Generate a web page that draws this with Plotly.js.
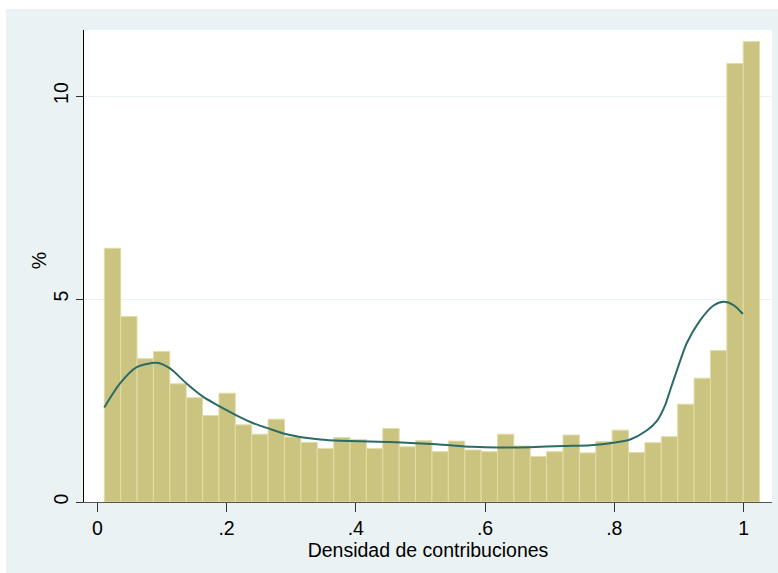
<!DOCTYPE html>
<html>
<head>
<meta charset="utf-8">
<script src="https://cdn.plot.ly/plotly-3.0.1.min.js"></script>
<style>
html,body{margin:0;padding:0;background:#ffffff;}
#chart{position:absolute;left:6px;top:9px;width:772px;height:564px;}
</style>
</head>
<body>
<div id="chart"></div>
<script>
// Histogram bins (centers) and bin width
var binCenters = [0.0235,0.0488,0.0742,0.0995,0.1249,0.1502,0.1756,0.2009,0.2263,0.2516,
                  0.2770,0.3023,0.3277,0.3530,0.3784,0.4037,0.4291,0.4544,0.4798,0.5051,
                  0.5305,0.5558,0.5812,0.6065,0.6319,0.6572,0.6826,0.7079,0.7333,0.7586,
                  0.7840,0.8093,0.8347,0.8600,0.8854,0.9107,0.9361,0.9614,0.9868,1.0121];
var binWidth = 0.02535;
// Percent per bin
var percent = [6.25,4.57,3.53,3.71,2.91,2.57,2.13,2.68,1.90,1.67,
               2.04,1.60,1.47,1.32,1.59,1.54,1.32,1.81,1.36,1.51,
               1.24,1.50,1.28,1.24,1.67,1.38,1.12,1.24,1.65,1.21,
               1.49,1.77,1.22,1.46,1.61,2.41,3.05,3.73,10.80,11.34];
// Kernel density (scaled to percent)
var kdX = [0.0108,0.0351,0.061,0.092,0.1125,0.138,0.164,0.190,0.216,0.2415,0.267,0.293,0.319,0.345,0.376,
           0.463,0.525,0.580,0.618,0.669,0.721,0.763,0.799,0.8246,0.850,0.866,0.879,0.8865,0.897,0.912,0.933,0.9535,0.969,0.9845,0.999];
var kdY = [2.33,2.92,3.32,3.43,3.29,2.92,2.59,2.35,2.13,1.94,1.80,1.67,1.59,1.54,1.51,
           1.47,1.42,1.36,1.34,1.35,1.38,1.40,1.46,1.54,1.76,2.00,2.40,2.76,3.25,3.91,4.48,4.84,4.93,4.85,4.63];
var xTickVals = [0,0.2,0.4,0.6,0.8,1];
var xTickText = ['0','.2','.4','.6','.8','1'];
var yTickVals = [0,5,10];
var yTickText = ['0','5','10'];
var xTitle = 'Densidad de contribuciones';
var yTitle = '%';

var font = {family:'"Liberation Sans", Arial, sans-serif', size:19.5, color:'#000'};

var traces = [
  {type:'bar', x:binCenters, y:percent, width:binWidth,
   marker:{color:'#CBC481', line:{color:'#E2DCA6', width:1}},
   hoverinfo:'x+y', showlegend:false},
  {type:'scatter', mode:'lines', x:kdX, y:kdY,
   line:{color:'#2A6B66', width:2, shape:'spline', smoothing:0.7},
   showlegend:false}
];

var layout = {
  width:772, height:564,
  margin:{l:78, r:6, t:21, b:71},
  paper_bgcolor:'#EAF2F3',
  plot_bgcolor:'#ffffff',
  font:font,
  bargap:0,
  xaxis:{range:[-0.0206,1.044], tickvals:xTickVals, ticktext:xTickText,
         showgrid:false, zeroline:false, showline:true, linecolor:'#555', linewidth:1,
         ticks:'outside', ticklen:9, tickcolor:'#333', tickfont:font,
         title:{text:xTitle, font:font, standoff:0}},
  yaxis:{range:[0,11.626], tickvals:yTickVals, ticktext:yTickText, tickangle:-90,
         showgrid:true, gridcolor:'#EAF2F3', gridwidth:1, zeroline:false,
         showline:true, linecolor:'#000', linewidth:1,
         ticks:'outside', ticklen:7, tickcolor:'#333', tickfont:font},
  annotations:[{text:yTitle, xref:'paper', yref:'paper', x:0, y:0.51, xshift:-45,
                xanchor:'center', yanchor:'middle', textangle:-90, showarrow:false, font:font}]
};

Plotly.newPlot('chart', traces, layout, {displayModeBar:false, staticPlot:true});
</script>
</body>
</html>
